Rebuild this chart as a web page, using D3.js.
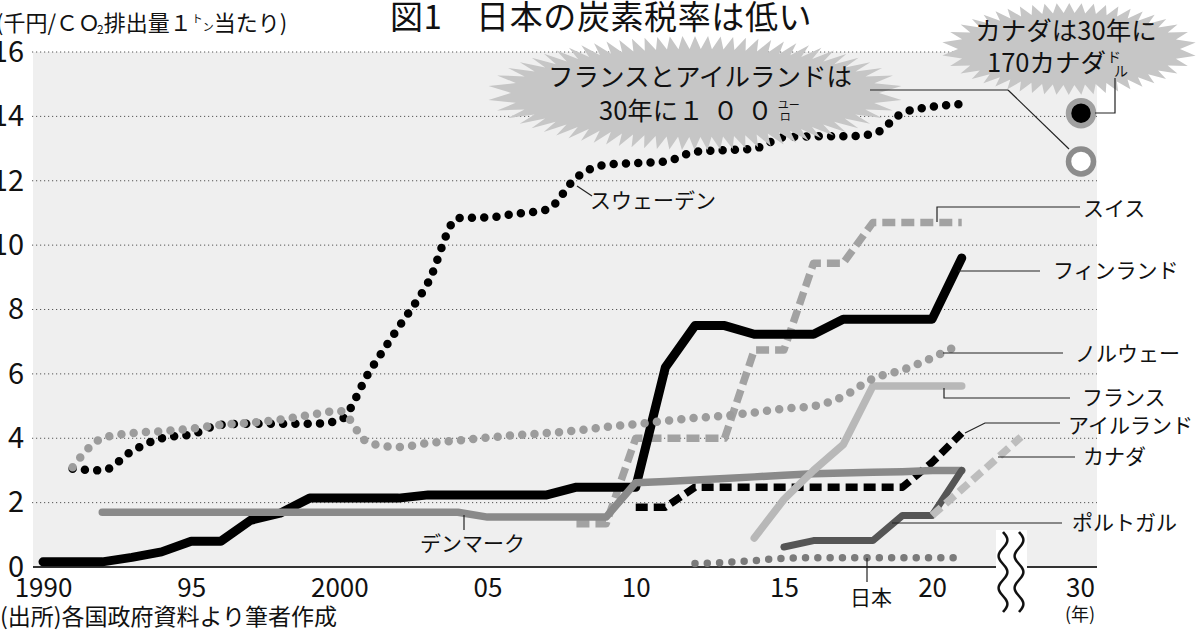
<!DOCTYPE html>
<html><head><meta charset="utf-8">
<script src="https://cdn.jsdelivr.net/npm/d3@7"></script>
<style>
body{margin:0;background:#fff;}
svg{display:block;font-family:"Noto Sans CJK JP","Noto Sans",sans-serif;}
</style>
</head><body>
<svg id="c" width="1200" height="630"></svg>
<script>
// ---------- data ----------
const yTicks = [0, 2, 4, 6, 8, 10, 12, 14, 16];
const xTickYears = [1990, 1995, 2000, 2005, 2010, 2015, 2020, 2030];
const xTickLabels = ["1990", "95", "2000", "05", "10", "15", "20", "30"];

const sweden = [[1991,3.05],[1992,3.0],[1993,3.6],[1994,4.0],[1995,4.12],[1996,4.42],[1997,4.45],[1998,4.45],[1999,4.45],[2000,4.55],[2001,6.05],[2002,7.45],[2003,8.85],[2004,10.84],[2005,10.86],[2006,10.98],[2007,11.1],[2008,12.1],[2009,12.5],[2010,12.55],[2011,12.6],[2012,12.9],[2013,12.95],[2014,13.0],[2015,13.35],[2016,13.38],[2017,13.38],[2018,13.45],[2019,14.1],[2020,14.3],[2021,14.38]];
const norway = [[1991,3.1],[1992,4.0],[1993,4.16],[1994,4.22],[1995,4.3],[1996,4.42],[1997,4.48],[1998,4.58],[1999,4.72],[2000,4.85],[2001,3.85],[2002,3.73],[2003,3.85],[2004,3.93],[2005,4.02],[2006,4.1],[2007,4.16],[2008,4.24],[2009,4.35],[2010,4.44],[2011,4.54],[2012,4.63],[2013,4.7],[2014,4.8],[2015,4.92],[2016,5.0],[2017,5.3],[2018,5.85],[2019,6.12],[2020,6.5],[2021,6.95]];
const finland = [[1990,0.16],[1991,0.16],[1992,0.16],[1993,0.3],[1994,0.47],[1995,0.8],[1996,0.8],[1997,1.45],[1998,1.67],[1999,2.14],[2000,2.14],[2001,2.14],[2002,2.14],[2003,2.24],[2004,2.24],[2005,2.24],[2006,2.24],[2007,2.24],[2008,2.48],[2009,2.48],[2010,2.48],[2011,6.2],[2012,7.5],[2013,7.5],[2014,7.23],[2015,7.23],[2016,7.23],[2017,7.7],[2018,7.7],[2019,7.7],[2020,7.7],[2021,9.6]];
const switzerland = [[2008,1.34],[2009,1.34],[2010,4.0],[2011,4.0],[2012,4.0],[2013,4.0],[2014,6.74],[2015,6.74],[2016,9.44],[2017,9.44],[2018,10.7],[2019,10.7],[2020,10.7],[2021,10.7]];
const denmark = [[1992,1.7],[1993,1.7],[1994,1.7],[1995,1.7],[1996,1.7],[1997,1.7],[1998,1.7],[1999,1.7],[2000,1.7],[2001,1.7],[2002,1.7],[2003,1.7],[2004,1.7],[2005,1.55],[2006,1.55],[2007,1.55],[2008,1.55],[2009,1.55],[2010,2.62],[2011,2.66],[2012,2.7],[2013,2.75],[2014,2.8],[2015,2.85],[2016,2.9],[2017,2.92],[2018,2.94],[2019,2.96],[2020,3.0],[2021,3.0]];
const ireland = [[2010,1.86],[2011,1.86],[2012,2.48],[2013,2.48],[2014,2.48],[2015,2.48],[2016,2.48],[2017,2.48],[2018,2.48],[2019,2.48],[2020,3.25],[2021,4.16]];
const france = [[2014,0.9],[2015,2.1],[2016,3.0],[2017,3.8],[2018,5.62],[2019,5.62],[2020,5.62],[2021,5.62]];
const portugal = [[2015,0.62],[2016,0.82],[2017,0.82],[2018,0.82],[2019,1.6],[2020,1.6],[2021,3.0]];
const canada = [[2020,1.6],[2021,2.41],[2022,3.22],[2023,4.04]];
const japan = [[2012,0.11],[2013,0.14],[2014,0.2],[2015,0.27],[2016,0.29],[2017,0.29],[2018,0.29],[2019,0.29],[2020,0.29],[2021,0.29]];
const target2030 = [[2030,14.1,"filled"],[2030,12.6,"open"]];

// ---------- setup ----------
const svg = d3.select("#c");
const x = d3.scaleLinear().domain([1990, 2023, 2030]).range([43, 1021, 1080]);
const y = d3.scaleLinear().domain([0, 16]).range([567, 52]);
const PL = 33, PR = 1097;

// plot background
svg.append("rect").attr("x", PL).attr("y", y(16)).attr("width", PR - PL).attr("height", y(0) - y(16)).attr("fill", "#efefef");

// grid
svg.append("g").selectAll("line").data(yTicks.filter(d => d > 0)).join("line")
  .attr("x1", PL - 1).attr("x2", PR).attr("y1", d => y(d)).attr("y2", d => y(d))
  .attr("stroke", "#555").attr("stroke-width", 1).attr("stroke-dasharray", "1.2 2.8");

// y axis labels
const ya = svg.append("g").attr("transform", `translate(${PL},0)`)
  .call(d3.axisLeft(y).tickValues(yTicks).tickSize(0).tickPadding(9));
ya.select(".domain").remove();
ya.selectAll("text").attr("font-size", 29).attr("fill", "#111")
  .attr("font-family", '"Noto Sans CJK JP",sans-serif').style("font-variant-numeric", "tabular-nums");

// x axis
const xa = svg.append("g").attr("transform", `translate(0,${y(0)})`)
  .call(d3.axisBottom(x).tickValues(xTickYears).tickFormat((d, i) => xTickLabels[i]).tickSize(0).tickPadding(12));
xa.select(".domain").remove();
xa.selectAll("text").attr("font-size", 26).attr("fill", "#111").attr("font-family", '"Noto Sans CJK JP",sans-serif');
svg.append("line").attr("x1", PL).attr("x2", PR).attr("y1", y(0)).attr("y2", y(0)).attr("stroke", "#333").attr("stroke-width", 2);

// ---------- series ----------
const lin = d3.line().x(d => x(d[0])).y(d => y(d[1]));
const smooth = d3.line().x(d => x(d[0])).y(d => y(d[1])).curve(d3.curveMonotoneX);
const series = [
  {data: switzerland, color: "#a2a2a2", w: 7.5, dash: "13 6", cap: "butt", gen: lin},
  {data: finland, color: "#000", w: 9, dash: null, cap: "round", gen: lin},
  {data: ireland, color: "#000", w: 7.5, dash: "12 6", cap: "butt", gen: lin},
  {data: denmark, color: "#8a8a8a", w: 7.5, dash: null, cap: "round", gen: lin},
  {data: france, color: "#b8b8b8", w: 7.5, dash: null, cap: "round", gen: lin},
  {data: portugal, color: "#555", w: 7, dash: null, cap: "round", gen: lin},
  {data: canada, color: "#bdbdbd", w: 7.5, dash: "12 6", cap: "butt", gen: lin},
  {data: japan, color: "#7a7a7a", w: 7.5, dash: "0 12.3", cap: "round", gen: smooth},
  {data: sweden, color: "#000", w: 8.5, dash: "0 12.3", cap: "round", gen: smooth},
  {data: norway, color: "#9c9c9c", w: 8.5, dash: "0 12.3", cap: "round", gen: smooth}
];
svg.append("g").selectAll("path").data(series).join("path")
  .attr("d", s => s.gen(s.data)).attr("fill", "none")
  .attr("stroke", s => s.color).attr("stroke-width", s => s.w)
  .attr("stroke-dasharray", s => s.dash).attr("stroke-linecap", s => s.cap)
  .attr("stroke-linejoin", "round");

// 2030 targets
svg.append("g").selectAll("circle").data(target2030).join("circle")
  .attr("cx", d => x(d[0]) + 1).attr("cy", d => y(d[1])).attr("r", 12.5)
  .attr("fill", d => d[2] === "filled" ? "#000" : "#fff")
  .attr("stroke", d => d[2] === "filled" ? "#a0a0a0" : "#8c8c8c").attr("stroke-width", 5.5);

// axis break
svg.append("rect").attr("x", 996).attr("y", 530).attr("width", 31).attr("height", 40).attr("fill", "#fff");
const wave = d3.line().curve(d3.curveBasis);
[1003, 1019].forEach(cx => {
  const pts = d3.range(0, 41).map(i => [cx + 4.5 * Math.sin(i / 40 * Math.PI * 5), 532 + i * 2]);
  svg.append("path").attr("d", wave(pts)).attr("fill", "none").attr("stroke", "#111").attr("stroke-width", 2.5);
});

// ---------- starbursts ----------
function burst(cx, cy, rx, ry, ex, ey, n) {
  const N = 3000, samp = [];
  let L = 0, prev = null;
  for (let i = 0; i <= N; i++) {
    const t = i / N * 2 * Math.PI;
    const p = [cx + rx * Math.cos(t), cy + ry * Math.sin(t)];
    if (prev) L += Math.hypot(p[0] - prev[0], p[1] - prev[1]);
    samp.push([t, L]); prev = p;
  }
  const pts = [];
  let j = 0;
  for (let k = 0; k < 2 * n; k++) {
    const target = k / (2 * n) * L;
    while (j < N && samp[j][1] < target) j++;
    const t = samp[j][0];
    if (k % 2 === 0) pts.push([cx + rx * Math.cos(t), cy + ry * Math.sin(t)]);
    else pts.push([cx + (rx + ex) * Math.cos(t), cy + (ry + ey) * Math.sin(t)]);
  }
  return "M" + pts.map(p => p.join(",")).join("L") + "Z";
}
svg.append("path").attr("d", burst(695, 93, 184, 44, 24, 13, 70)).attr("fill", "#c6c6c6");
svg.append("path").attr("d", burst(1069, 49, 111, 36, 17, 10, 46)).attr("fill", "#c6c6c6");

// ---------- leader lines ----------
const leaders = [
  "M1008,90H870", "M1008,90L1069,149",
  "M1115,78V113H1095",
  "M937,222V207H1080",
  "M958,271H1040",
  "M943,353H1063",
  "M944,388V398H1070",
  "M965,433L985,423H1060",
  "M998,457H1075",
  "M892,523H1062",
  "M577,186L592,196",
  "M464,515V530",
  "M867,558V582"
];
svg.append("g").selectAll("path").data(leaders).join("path").attr("d", d => d)
  .attr("fill", "none").attr("stroke", "#222").attr("stroke-width", 1.2);

// ---------- texts ----------
const T = (tx, ty, str, size, anchor) => svg.append("text").attr("x", tx).attr("y", ty)
  .attr("font-size", size).attr("fill", "#111").attr("text-anchor", anchor || "start").text(str);

// title
T(390, 29, "図1　日本の炭素税率は低い", 33).attr("letter-spacing", 0.6);

// y axis title
const yt = svg.append("text").attr("x", -4).attr("y", 31).attr("font-size", 22).attr("fill", "#111");
yt.append("tspan").text("(千円/ＣＯ");
yt.append("tspan").attr("font-size", 12).attr("dy", 3).attr("dx", -3).text("2");
yt.append("tspan").attr("dy", -3).text("排出量１");
yt.append("tspan").attr("font-size", 11).attr("dy", -8).text("ト");
yt.append("tspan").attr("font-size", 11).attr("dy", 8).text("ン");
yt.append("tspan").text("当たり)");

// series labels
const labels = [
  [1083, 216, "スイス"], [1053, 278, "フィンランド"], [1075, 361, "ノルウェー"],
  [1082, 405, "フランス"], [1068, 433, "アイルランド"], [1083, 464, "カナダ"],
  [1072, 530, "ポルトガル"], [590, 208, "スウェーデン"], [420, 551, "デンマーク"], [850, 605, "日本"]
];
labels.forEach(l => T(l[0], l[1], l[2], 21));

// year unit & source
T(1080, 621, "(年)", 18, "middle");
T(0, 625, "(出所)各国政府資料より筆者作成", 23);

// bubble 1 text
T(700, 86, "フランスとアイルランドは", 25.5, "middle");
const b2 = svg.append("text").attr("x", 599).attr("y", 120).attr("font-size", 25.5).attr("fill", "#111");
b2.append("tspan").text("30年に");
b2.append("tspan").attr("letter-spacing", 9).text("１００");
const bw = b2.node().getComputedTextLength();
T(599 + bw - 4, 109, "ユー", 11);
T(601 + bw - 4, 121, "ロ", 11);

// bubble 2 text
T(1066, 40, "カナダは30年に", 25.5, "middle");
const c2 = svg.append("text").attr("x", 987).attr("y", 72).attr("font-size", 25.5).attr("fill", "#111").text("170カナダ");
const cw = c2.node().getComputedTextLength();
T(987 + cw + 1, 62, "ド", 14);
T(987 + cw + 8, 76, "ル", 14);
</script>
</body></html>
